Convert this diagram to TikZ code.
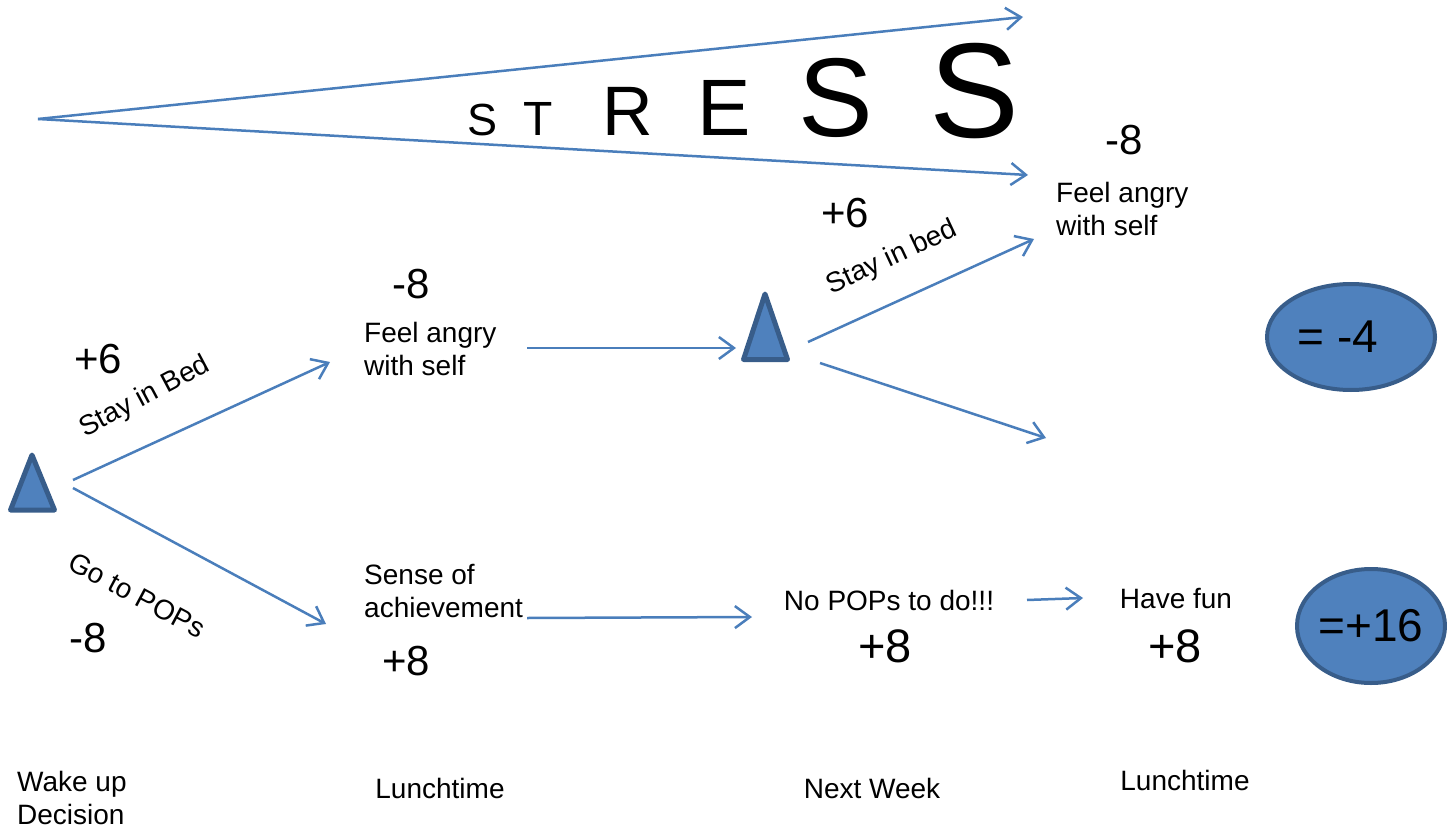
\documentclass[tikz,border=0pt]{standalone}
\usepackage{fontspec}
\setmainfont{Liberation Sans}
\usetikzlibrary{arrows.meta,shapes.geometric}
\definecolor{arrowblue}{HTML}{4A7EBB}
\definecolor{fillblue}{HTML}{4F81BD}
\definecolor{edgeblue}{HTML}{385D8A}
\tikzset{
  lbl/.style={font=\fontsize{28}{33}\selectfont, inner sep=0pt},
  num/.style={font=\fontsize{42}{48}\selectfont, inner sep=0pt},
  bignum/.style={font=\fontsize{47}{52}\selectfont, inner sep=0pt},
  restxt/.style={font=\fontsize{46}{54}\selectfont, inner sep=0pt},
  conn/.style={draw=arrowblue, line width=2.5pt, -{Straight Barb[length=15pt,width=22pt]}},
  decision/.style={draw=edgeblue, fill=fillblue, line width=5pt, line join=round},
  result/.style={ellipse, draw=edgeblue, fill=fillblue, line width=4pt, inner sep=0pt},
}
\begin{document}
\begin{tikzpicture}[x=1pt,y=-1pt]
\useasboundingbox (0,0) rectangle (1447,829);

% STRESS wedge
\coordinate (wedge) at (38,119);
\coordinate (wtop) at (1023,17);
\coordinate (wbot) at (1028,175);
\draw[conn] (wedge) -- (wtop);
\draw[conn] (wedge) -- (wbot);
\node[anchor=base, inner sep=0pt, font=\fontsize{45}{50}\selectfont] (st1) at (483,136) {S};
\node[anchor=base, inner sep=0pt, font=\fontsize{48}{50}\selectfont] (st2) at (538,136) {T};
\node[anchor=base, inner sep=0pt, font=\fontsize{70}{80}\selectfont] (st3) at (628,136) {R};
\node[anchor=base, inner sep=0pt, font=\fontsize{80}{90}\selectfont] (st4) at (724,136) {E};
\node[anchor=base, inner sep=0pt, font=\fontsize{112}{120}\selectfont] (st5) at (836,137) {S};
\node[anchor=base, inner sep=0pt, font=\fontsize{135}{140}\selectfont] (st6) at (975,138) {S};

% decision triangles
\draw[decision] (32,455) -- (10.5,510) -- (54.5,510) -- cycle;
\coordinate (d1) at (32,490);
\draw[decision] (765,294) -- (743.5,359.5) -- (787.5,359.5) -- cycle;
\coordinate (d2) at (765,335);

% texts (multi-line nodes are anchored at the baseline of their last line)
\node[num, anchor=base] (n1) at (1124,155) {-8};
\node[lbl, anchor=base west, align=left] (f2) at (1056,235) {Feel angry\\with self};
\node[num, anchor=base] (p2) at (845,227) {+6};
\node[lbl, rotate=25] (s2) at (892,258) {Stay in bed};
\node[num, anchor=base] (m1) at (411,298) {-8};
\node[lbl, anchor=base west, align=left] (f1) at (364,375) {Feel angry\\with self};
\node[num, anchor=base] (p1) at (98,373) {+6};
\node[lbl, rotate=28] (s1) at (145,397) {Stay in Bed};
\node[lbl, rotate=-28] (g1) at (137,595) {Go to POPs};
\node[num, anchor=base] (m2) at (88,652) {-8};
\node[lbl, anchor=base west, align=left] (sa) at (364,617) {Sense of\\achievement};
\node[num, anchor=base] (p3) at (406,675) {+8};
\node[lbl, anchor=base] (np) at (889,610) {No POPs to do!!!};
\node[bignum, anchor=base] (p4) at (885,662) {+8};
\node[lbl, anchor=base] (hf) at (1176,608) {Have fun};
\node[bignum, anchor=base] (p5) at (1175,662) {+8};

% bottom time labels
\node[lbl, anchor=base west, align=left] (t1) at (17,824) {Wake up\\Decision};
\node[lbl, anchor=base] (t2) at (440,798) {Lunchtime};
\node[lbl, anchor=base] (t3) at (872,798) {Next Week};
\node[lbl, anchor=base] (t4) at (1185,790) {Lunchtime};

% results
\node[result, minimum width=168, minimum height=106] (r1) at (1351,337) {};
\node[restxt] (r1t) at ([xshift=-13pt]r1.center) {= -4};
\node[result, minimum width=148, minimum height=114] (r2) at (1371,626) {};
\node[restxt] (r2t) at (r2.center) {=+16};

% connectors
\coordinate (a1s) at (73,480);  \coordinate (a1e) at (330,362);
\coordinate (a2s) at (73,488);  \coordinate (a2e) at (326,624);
\coordinate (a3s) at (527,348); \coordinate (a3e) at (736,348);
\coordinate (a4s) at (808,342); \coordinate (a4e) at (1034,239);
\coordinate (a5s) at (820,363); \coordinate (a5e) at (1046,438);
\coordinate (a6s) at (527,618); \coordinate (a6e) at (752,617);
\coordinate (a7s) at (1027,600); \coordinate (a7e) at (1083,598);
\draw[conn] (a1s) -- (a1e);
\draw[conn] (a2s) -- (a2e);
\draw[conn] (a3s) -- (a3e);
\draw[conn] (a4s) -- (a4e);
\draw[conn] (a5s) -- (a5e);
\draw[conn] (a6s) -- (a6e);
\draw[conn] (a7s) -- (a7e);
\end{tikzpicture}
\end{document}
